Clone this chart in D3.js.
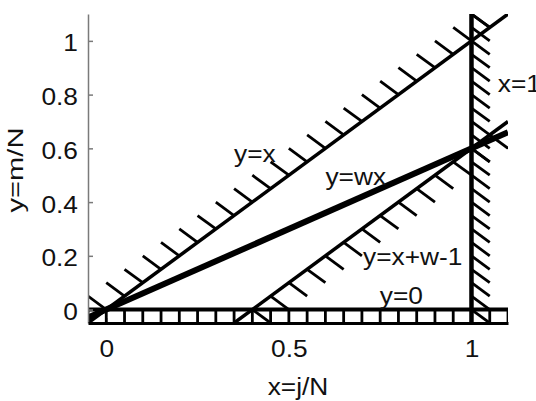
<!DOCTYPE html>
<html>
<head>
<meta charset="utf-8">
<script src="https://cdn.jsdelivr.net/npm/d3@7"></script>
<style>
  body { margin: 0; background: #fff; }
  text { font-family: "Liberation Sans", Arial, sans-serif; font-size: 23.5px; fill: #111; }
</style>
</head>
<body>
<svg id="chart" width="536" height="401"></svg>
<script>
// Axis ranges, ticks, labels
const xDomain = [-0.05, 1.1];
const yDomain = [-0.05, 1.1];
const xTicks = [0, 0.5, 1];
const yTicks = [0, 0.2, 0.4, 0.6, 0.8, 1];
const xLabel = "x=j/N";
const yLabel = "y=m/N";

// Constraint lines (w = 0.6)
const lineNames = ["y=x", "y=wx", "y=x+w-1", "y=0", "x=1"];
const lineFrom = [[-0.05, -0.05], [-0.05, -0.03], [0.35, -0.05], [-0.05, 0], [1, -0.05]];
const lineTo = [[1.1, 1.1], [1.1, 0.66], [1.1, 0.7], [1.1, 0], [1, 1.1]];

// Hatching: first base point, step between bases, number of marks, mark vector
const hatchStart = [[0, 0], null, [0.4, 0], [-0.05, 0], [1, 0]];
const hatchStep = [[0.05, 0.05], null, [0.05, 0.05], [0.05, 0], [0, 0.05]];
const hatchCount = [22, 0, 15, 24, 23];
const hatchVec = [[-0.05, 0.05], null, [0.05, -0.05], [0, -0.05], [0.05, -0.05]];

// Where each line's name sits (data coords, left end of baseline)
const labelAt = [[0.35, 0.55], [0.6, 0.463], [0.703, 0.166], [0.749, 0.02], [1.072, 0.81]];

const lineWidths = [3.5, 6, 3.5, 4, 4.5];
const textScale = 1.12;

const svg = d3.select("#chart");
const x = d3.scaleLinear().domain(xDomain).range([88, 508]);
const y = d3.scaleLinear().domain(yDomain).range([323, 14]);

svg.append("clipPath").attr("id", "plot-clip")
    .append("rect")
    .attr("x", x(xDomain[0])).attr("y", y(yDomain[1]))
    .attr("width", x(xDomain[1]) - x(xDomain[0]))
    .attr("height", y(yDomain[0]) - y(yDomain[1]));

const plot = svg.append("g").attr("clip-path", "url(#plot-clip)");

// Hatch marks
lineNames.forEach((name, i) => {
    if (!hatchStart[i]) return;
    const marks = d3.range(hatchCount[i]).map(k => [
        hatchStart[i][0] + k * hatchStep[i][0],
        hatchStart[i][1] + k * hatchStep[i][1]
    ]);
    plot.selectAll(null)
        .data(marks)
        .enter()
        .append("line")
        .attr("x1", d => x(d[0]))
        .attr("y1", d => y(d[1]))
        .attr("x2", d => x(d[0] + hatchVec[i][0]))
        .attr("y2", d => y(d[1] + hatchVec[i][1]))
        .attr("stroke", "#000")
        .attr("stroke-width", 2.8);
});

// Main lines
plot.selectAll(".cline")
    .data(lineNames)
    .enter()
    .append("line")
    .attr("class", "cline")
    .attr("x1", (d, i) => x(lineFrom[i][0]))
    .attr("y1", (d, i) => y(lineFrom[i][1]))
    .attr("x2", (d, i) => x(lineTo[i][0]))
    .attr("y2", (d, i) => y(lineTo[i][1]))
    .attr("stroke", "#000")
    .attr("stroke-width", (d, i) => lineWidths[i]);

// Y axis (grey, ticks inward)
const yAxisG = svg.append("g")
    .attr("transform", `translate(${x(xDomain[0])},0)`)
    .call(d3.axisLeft(y).tickValues(yTicks).tickSize(-5).tickSizeOuter(0).tickFormat(d => String(d)));
yAxisG.select(".domain").attr("stroke", "#7a7a7a").attr("stroke-width", 1.5);
yAxisG.selectAll(".tick line").attr("stroke", "#7a7a7a").attr("stroke-width", 1.5);
yAxisG.selectAll(".tick text")
    .attr("x", null).attr("dy", null)
    .attr("transform", `translate(-10,10) scale(${textScale},1)`)
    .attr("font-size", null).attr("font-family", null)
    .attr("fill", null);

// X axis (black line at bottom of plot)
const xAxisG = svg.append("g")
    .attr("transform", `translate(0,${y(yDomain[0])})`)
    .call(d3.axisBottom(x).tickValues(xTicks).tickSize(-5).tickSizeOuter(0).tickFormat(d => String(d)));
xAxisG.select(".domain").attr("stroke", "#000").attr("stroke-width", 2.8);
xAxisG.selectAll(".tick line").attr("stroke", "#000");
xAxisG.selectAll(".tick text")
    .attr("y", null).attr("dy", null)
    .attr("transform", `translate(0,34) scale(${textScale},1)`)
    .attr("font-size", null).attr("font-family", null)
    .attr("fill", null);

// Line names
svg.selectAll(".lname")
    .data(lineNames)
    .enter()
    .append("text")
    .attr("class", "lname")
    .attr("transform", (d, i) => `translate(${x(labelAt[i][0])},${y(labelAt[i][1])}) scale(${textScale},1)`)
    .text(d => d);

// Axis titles
svg.append("text")
    .attr("transform", `translate(${(x(xDomain[0]) + x(xDomain[1])) / 2},395) scale(${textScale},1)`)
    .attr("text-anchor", "middle")
    .text(xLabel);

svg.append("text")
    .attr("transform", "translate(23,170) rotate(-90)")
    .attr("text-anchor", "middle")
    .attr("textLength", 85)
    .attr("lengthAdjust", "spacingAndGlyphs")
    .style("font-size", "22px")
    .text(yLabel);
</script>
</body>
</html>
